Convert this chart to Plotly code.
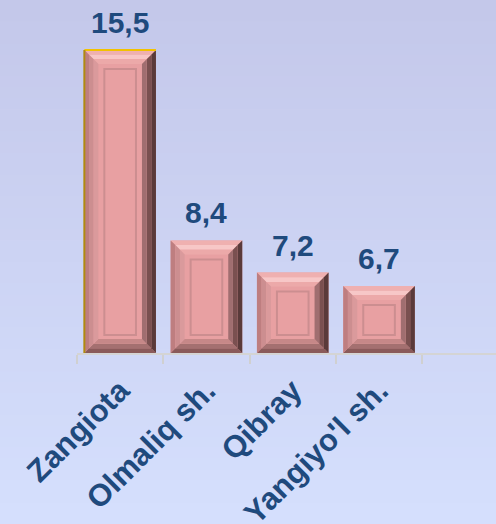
import plotly.graph_objects as go

# ---- data ----
categories = ["Zangiota", "Olmaliq sh.", "Qibray", "Yangiyo'l sh."]
values = [15.5, 8.4, 7.2, 6.7]
value_labels = ["15,5", "8,4", "7,2", "6,7"]

# ---- layout geometry ----
W, H = 496, 524
ML, MR, MT, MB = 77, 0, 0, 171
plot_w = W - ML - MR
plot_h = H - MT - MB
cat_px = 86.3                      # pixel width of one category
y_min = 4.2                        # axis starts above zero (as in the original)
top_px = 50                        # pixel y of the tallest bar top
k = (plot_h - top_px) / (max(values) - y_min)   # px per unit
y_max = y_min + plot_h / k
x_range = [-0.5, -0.5 + plot_w / cat_px]
bar_w = 0.83

TXT = "#1F4A7D"
FACE = "#E8A0A2"

def dx(p):
    return p / cat_px

def dy(p):
    return p / k

fig = go.Figure()
fig.add_trace(go.Bar(
    x=categories, y=values, width=bar_w,
    marker=dict(color=FACE, line=dict(width=0)),
    hoverinfo="skip", showlegend=False,
))

shapes = []
# background gradient (paper coords spanning the whole figure)
top_c = (196, 200, 234)
bot_c = (213, 223, 253)
nb = 48
y_top_paper = 1 + MT / plot_h
y_bot_paper = -MB / plot_h
span = y_top_paper - y_bot_paper
for j in range(nb):
    t = j / (nb - 1)
    c = tuple(round(top_c[m] + (bot_c[m] - top_c[m]) * t) for m in range(3))
    shapes.append(dict(type="rect", xref="paper", yref="paper",
                       x0=-1, x1=2,
                       y0=y_top_paper - span * (j + 1) / nb - (0.05 if j == nb - 1 else 0.002),
                       y1=y_top_paper - span * j / nb + (0.05 if j == 0 else 0.0),
                       fillcolor="rgb(%d,%d,%d)" % c, line=dict(width=0), layer="below"))

# bevel colours (outer -> inner)
bev = {
    "top": ["#EFB0B0", "#F7C7C7", "#ECA9A9"],
    "left": ["#BE7E80", "#CC8E90", "#DA9A9C"],
    "right": ["#5A3A3A", "#7A5050", "#A06E70"],
    "bottom": ["#8A5A5A", "#A47070", "#C68888"],
}
B = 14.0
nbands = 3

def path(pts):
    return "M " + " L ".join("%f,%f" % p for p in pts) + " Z"

for i, v in enumerate(values):
    x0, x1 = i - bar_w / 2, i + bar_w / 2
    yb, yt = y_min, v
    for j in range(nbands):
        a = B * j / nbands
        b = B * (j + 1) / nbands
        shapes.append(dict(type="path", xref="x", yref="y", layer="above",
                           path=path([(x0 + dx(a), yt - dy(a)), (x1 - dx(a), yt - dy(a)),
                                      (x1 - dx(b), yt - dy(b)), (x0 + dx(b), yt - dy(b))]),
                           fillcolor=bev["top"][j], line=dict(width=0)))
        shapes.append(dict(type="path", xref="x", yref="y", layer="above",
                           path=path([(x0 + dx(a), yb + dy(a)), (x1 - dx(a), yb + dy(a)),
                                      (x1 - dx(b), yb + dy(b)), (x0 + dx(b), yb + dy(b))]),
                           fillcolor=bev["bottom"][j], line=dict(width=0)))
        shapes.append(dict(type="path", xref="x", yref="y", layer="above",
                           path=path([(x0 + dx(a), yb + dy(a)), (x0 + dx(a), yt - dy(a)),
                                      (x0 + dx(b), yt - dy(b)), (x0 + dx(b), yb + dy(b))]),
                           fillcolor=bev["left"][j], line=dict(width=0)))
        shapes.append(dict(type="path", xref="x", yref="y", layer="above",
                           path=path([(x1 - dx(a), yb + dy(a)), (x1 - dx(a), yt - dy(a)),
                                      (x1 - dx(b), yt - dy(b)), (x1 - dx(b), yb + dy(b))]),
                           fillcolor=bev["right"][j], line=dict(width=0)))
    ins = 20
    shapes.append(dict(type="rect", xref="x", yref="y", layer="above",
                       x0=x0 + dx(ins), x1=x1 - dx(ins),
                       y0=yb + dy(ins - 2), y1=yt - dy(ins - 1),
                       fillcolor="rgba(0,0,0,0)", line=dict(color="#CC8E90", width=2)))
    if i == 0:
        shapes.append(dict(type="line", xref="x", yref="y", layer="above",
                           x0=x0, x1=x1, y0=yt, y1=yt,
                           line=dict(color="#F2C200", width=2)))
        shapes.append(dict(type="line", xref="x", yref="y", layer="above",
                           x0=x0, x1=x0, y0=yb, y1=yt,
                           line=dict(color="#B08A10", width=2)))
        shapes.append(dict(type="line", xref="x", yref="y", layer="above",
                           x0=x0, x1=x1, y0=yb - dy(1.5), y1=yb - dy(1.5),
                           line=dict(color="#F2C200", width=2)))

annotations = []
for i, (v, t) in enumerate(zip(values, value_labels)):
    annotations.append(dict(x=i, y=v, xref="x", yref="y", text=t, showarrow=False,
                            yanchor="bottom", yshift=9,
                            font=dict(family="Liberation Sans, Arial", size=30,
                                      color=TXT, weight="bold")))

fig.update_layout(
    width=W, height=H,
    margin=dict(l=ML, r=MR, t=MT, b=MB, pad=0, autoexpand=False),
    paper_bgcolor="rgb(205,211,243)",
    plot_bgcolor="rgba(0,0,0,0)",
    shapes=shapes,
    annotations=annotations,
    bargap=0.17,
    xaxis=dict(
        type="category", range=x_range, showline=True, linecolor="#D4D4D4", linewidth=2,
        ticks="outside", tickson="boundaries", ticklen=9, tickcolor="#D0D0D0", tickwidth=2,
        tickangle=-45, showgrid=False, zeroline=False, ticklabelstandoff=5, automargin=False,
        tickfont=dict(family="Liberation Sans, Arial", size=31, color=TXT, weight="bold"),
    ),
    yaxis=dict(range=[y_min, y_max], visible=False, showgrid=False, zeroline=False,
               automargin=False),
    showlegend=False,
)

fig.write_html("out.html", config={"displayModeBar": False},
               post_script="document.body.style.margin='0';document.body.style.overflow='hidden';")
